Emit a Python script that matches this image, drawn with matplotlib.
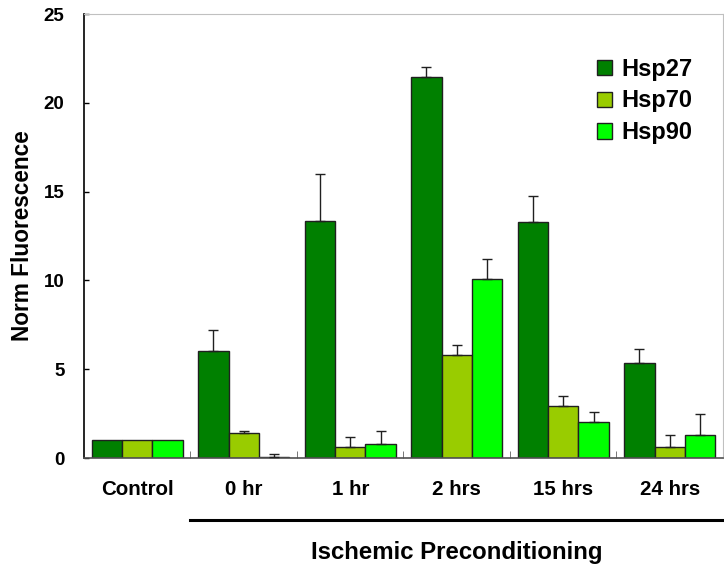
import numpy as np
import matplotlib
matplotlib.use('Agg')
import matplotlib.pyplot as plt

plt.rcParams['font.family'] = ['Liberation Sans', 'DejaVu Sans']
plt.rcParams['font.weight'] = 'bold'

GROUPS = ['Control', '0 hr', '1 hr', '2 hrs', '15 hrs', '24 hrs']
SERIES = ['Hsp27', 'Hsp70', 'Hsp90']
COLORS = ['#008000', '#99CC00', '#00FF00']

hsp27 = [1.0, 6.0, 13.33, 21.48, 13.27, 5.35]
hsp70 = [1.0, 1.43, 0.64, 5.78, 2.91, 0.62]
hsp90 = [1.0, 0.08, 0.77, 10.06, 2.03, 1.28]

hsp27_err = [0.0, 1.22, 2.66, 0.54, 1.50, 0.77]
hsp70_err = [0.0, 0.11, 0.53, 0.56, 0.56, 0.66]
hsp90_err = [0.0, 0.12, 0.77, 1.13, 0.56, 1.21]

values = [hsp27, hsp70, hsp90]
errors = [hsp27_err, hsp70_err, hsp90_err]

fig = plt.figure(figsize=(7.24, 5.69), dpi=100)
ax = fig.add_axes([0.116, 0.195, 0.8826, 0.7803])

x = np.arange(len(GROUPS))
width = 0.286
for i, (name, vals, errs) in enumerate(zip(SERIES, values, errors)):
    pos = x + (i - 1) * width
    ax.bar(pos, vals, width, color=COLORS[i], edgecolor='#202020', linewidth=1.0,
           label=name, zorder=2)
    up = np.array(errs)
    show = up > 0
    ax.errorbar(pos[show], np.array(vals)[show],
                yerr=[np.zeros(show.sum()), up[show]],
                fmt='none', ecolor='#202020', elinewidth=1.0, capsize=3.5,
                capthick=1.0, zorder=3)

ax.set_xlim(-0.5, 5.5)
ax.set_ylim(0, 25)
ax.set_yticks([0, 5, 10, 15, 20, 25])
ax.set_xticks(x)
ax.set_xticklabels(GROUPS, fontsize=14.8, fontweight='bold')
ax.set_xticks(np.arange(0.5, 5.6, 1.0), minor=True)
ax.tick_params(axis='x', which='major', length=0, pad=16)
ax.tick_params(axis='x', which='minor', direction='in', length=5, color='#606060')
ax.tick_params(axis='y', direction='in', length=3.5, width=1, pad=14, labelsize=13.5)
for lbl in ax.get_yticklabels():
    lbl.set_fontweight('bold')

ax.spines['left'].set_color('black')
ax.spines['left'].set_linewidth(1.2)
ax.spines['bottom'].set_color('#505050')
ax.spines['bottom'].set_linewidth(1.2)
ax.spines['top'].set_color('#c0c0c0')
ax.spines['right'].set_color('#c0c0c0')

ax.set_ylabel('Norm Fluorescence', fontsize=16.3, fontweight='bold', labelpad=7)

# bracket under the ischemic timepoints
trans = ax.get_xaxis_transform()
ax.plot([0.5, 5.5], [-0.139, -0.139], color='black', linewidth=2.2,
        transform=trans, clip_on=False)
ax.text(3.0, -0.212, 'Ischemic Preconditioning', transform=trans,
        ha='center', va='center', fontsize=17.3, fontweight='bold')

leg = ax.legend(loc='upper right', bbox_to_anchor=(0.985, 0.95), frameon=False,
                prop={'size': 17, 'weight': 'bold'}, handlelength=0.62,
                handleheight=0.62, handletextpad=0.4, labelspacing=0.38)

fig.savefig('out.png', dpi=100)
